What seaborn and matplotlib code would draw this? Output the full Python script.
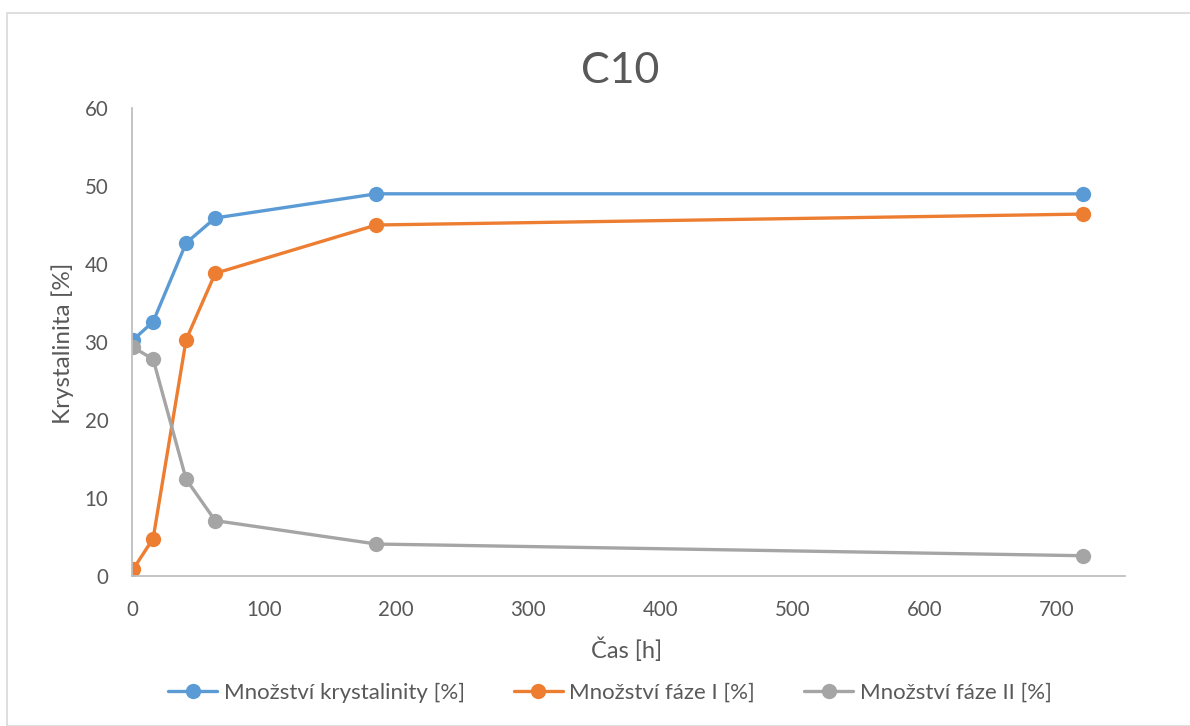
import matplotlib
matplotlib.use("Agg")
import matplotlib.pyplot as plt
import seaborn as sns
import pandas as pd
from matplotlib.patches import Rectangle
from matplotlib.lines import Line2D

# data
time_h = [1, 16, 41, 63, 185, 720]
krystalinita = [30.3, 32.6, 42.7, 45.9, 49.0, 49.0]
faze_I = [0.9, 4.8, 30.3, 38.8, 45.0, 46.4]
faze_II = [29.3, 27.8, 12.4, 7.1, 4.1, 2.6]
series_names = ["Množství krystalinity [%]", "Množství fáze I [%]", "Množství fáze II [%]"]
colors = ["#5B9BD5", "#ED7D31", "#A5A5A5"]
title = "C10"
xlabel = "Čas [h]"
ylabel = "Krystalinita [%]"

rows = []
for name, vals in zip(series_names, [krystalinita, faze_I, faze_II]):
    for t, v in zip(time_h, vals):
        rows.append({"t": t, "v": v, "s": name})
df = pd.DataFrame(rows)

sns.set_style("white")
plt.rcParams["font.family"] = ["Lato", "DejaVu Sans"]
txt = "#595959"

fig = plt.figure(figsize=(11.9, 7.26), dpi=100)
fig.patches.append(Rectangle((7/1190, 0), 2, 1 - 13/726, transform=fig.transFigure,
                             fill=False, edgecolor="#D9D9D9", linewidth=1.2))
ax = fig.add_axes([132/1190, 1 - 576/726, (1125-132)/1190, (576-108)/726])

sns.lineplot(data=df, x="t", y="v", hue="s", palette=colors, marker="o",
             markersize=11, markeredgewidth=0, linewidth=2.4, ax=ax, legend=False,
             sort=False)

ax.set_xlim(0, 752)
ax.set_ylim(0, 60)
ax.set_xticks(range(0, 701, 100))
ax.set_yticks(range(0, 61, 10))
ax.tick_params(axis="both", length=0, labelsize=14.8, labelcolor=txt, pad=17)
for s in ["top", "right"]:
    ax.spines[s].set_visible(False)
for s in ["left", "bottom"]:
    ax.spines[s].set_color("#BFBFBF")
    ax.spines[s].set_linewidth(1.3)
ax.set_xlabel("")
ax.set_ylabel("")
ax.patch.set_alpha(0)

fig.text(620/1190, 1 - 71/726, title, ha="center", va="center", fontsize=31, color=txt)
fig.text(627/1190, 1 - 650/726, xlabel, ha="center", va="center", fontsize=17, color=txt)
fig.text(63/1190, 1 - 343/726, ylabel, ha="center", va="center", rotation=90,
         fontsize=17.5, color=txt)

handles = [Line2D([0], [0], color=c, lw=2.4, marker="o", markersize=11, markeredgewidth=0)
           for c in colors]
fig.legend(handles, series_names, loc="center", bbox_to_anchor=(610/1190, 1 - 693/726),
           ncol=3, frameon=False, fontsize=16, labelcolor=txt, handlelength=2.2,
           handletextpad=0.3, columnspacing=2.2)

fig.savefig("out.png", dpi=100)
